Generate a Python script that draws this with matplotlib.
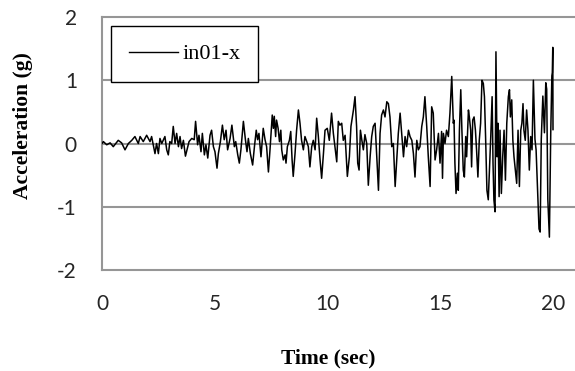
import matplotlib
matplotlib.use("Agg")
import matplotlib.pyplot as plt

# Time (sec) and acceleration (g)
time_s = [0.00, 0.06, 0.21, 0.36, 0.50, 0.72, 0.87, 1.02, 1.17, 1.32, 1.46, 1.61, 1.69, 1.83, 1.98,
          2.13, 2.20, 2.35, 2.42, 2.50, 2.57, 2.65, 2.79, 2.87, 2.94, 3.01, 3.09, 3.16, 3.24, 3.31,
          3.39, 3.46, 3.53, 3.61, 3.70,
          3.86, 3.98, 4.09, 4.15, 4.24, 4.30, 4.39, 4.45, 4.54, 4.61, 4.69, 4.79, 4.86, 4.94, 5.01,
          5.10, 5.16, 5.25, 5.34, 5.42, 5.50, 5.57, 5.68, 5.76, 5.87, 5.93, 6.02, 6.09, 6.16, 6.27,
          6.36, 6.43, 6.49, 6.58, 6.68, 6.76, 6.84, 6.90, 6.96, 7.05, 7.15, 7.23, 7.30, 7.38, 7.45,
          7.55,
          7.60, 7.64, 7.70, 7.74, 7.81, 7.87, 7.93,
          7.97, 8.04, 8.12, 8.16, 8.22, 8.31, 8.37, 8.43, 8.48, 8.56, 8.63, 8.71, 8.78, 8.85, 8.93,
          9.00, 9.08, 9.15, 9.22, 9.30, 9.37, 9.45, 9.52, 9.59, 9.67, 9.74, 9.82, 9.89, 9.99, 10.08,
          10.18, 10.26, 10.33, 10.41, 10.48, 10.55, 10.63, 10.70, 10.78, 10.88, 10.97, 11.04, 11.15,
          11.22,
          11.29, 11.34, 11.40, 11.46, 11.52, 11.59, 11.66, 11.74, 11.81, 11.89, 11.96, 12.03, 12.11,
          12.18, 12.26, 12.33, 12.40, 12.48, 12.55, 12.63, 12.70, 12.77, 12.85, 12.92, 13.00, 13.07,
          13.14, 13.22, 13.29, 13.37, 13.44, 13.51, 13.59, 13.66, 13.74, 13.81, 13.88, 13.96, 14.03,
          14.10, 14.18, 14.25, 14.32, 14.40, 14.47, 14.55, 14.62, 14.69, 14.77, 14.84, 14.92, 14.99,
          15.06, 15.10,
          15.14, 15.21, 15.28, 15.36, 15.43, 15.51, 15.58, 15.61, 15.65, 15.70, 15.76, 15.80, 15.85,
          15.91, 15.96, 16.02, 16.07, 16.13, 16.17, 16.25, 16.29, 16.35, 16.39, 16.44, 16.50, 16.56,
          16.61, 16.67, 16.73, 16.79, 16.85, 16.91, 16.96, 17.01, 17.07, 17.13, 17.17, 17.24, 17.30,
          17.34, 17.38, 17.43, 17.47, 17.52, 17.56, 17.61, 17.65, 17.71, 17.77, 17.83, 17.89, 17.95,
          18.02, 18.07, 18.11, 18.17, 18.22, 18.27, 18.33, 18.39, 18.45, 18.51, 18.57, 18.62, 18.67,
          18.71, 18.77, 18.83, 18.89, 18.95, 19.01, 19.07, 19.13,
          19.20, 19.25, 19.38, 19.43, 19.48, 19.55, 19.62, 19.68, 19.72, 19.77, 19.84, 19.90, 19.95,
          19.97, 19.99, 20.00]

accel_g = [0.00, 0.03, -0.02, 0.01, -0.05, 0.05, 0.01, -0.10, 0.00, 0.05, 0.11, 0.00, 0.11, 0.03, 0.13,
           0.03, 0.11, -0.16, 0.00, -0.16, 0.08, 0.00, 0.11, -0.10, -0.18, 0.03, 0.00, 0.27, 0.00, 0.16,
           -0.05, 0.11, -0.08, 0.05, -0.20,
           0.03, 0.08, 0.06, 0.35, -0.02, 0.13, -0.13, 0.16, -0.18, -0.02, -0.23, 0.13, 0.21, -0.05, -0.13,
           -0.39, -0.16, 0.03, 0.29, 0.06, 0.21, -0.10, 0.08, 0.29, -0.05, 0.03, -0.18, -0.31, -0.10, 0.35,
           0.06, -0.13, 0.08, -0.16, -0.34, -0.05, 0.21, 0.06, 0.16, -0.21, 0.24, 0.06, -0.05, -0.45, -0.10,
           0.45,
           0.24, 0.43, 0.11, 0.37, 0.24, 0.03, 0.21,
           -0.10, -0.26, -0.18, -0.31, -0.05, 0.05, 0.19, -0.26, -0.52, -0.16, 0.21, 0.53, 0.32, 0.05, -0.10,
           0.11, 0.03, -0.05, -0.37, -0.05, 0.05, -0.10, 0.40, 0.13, -0.26, -0.55, -0.16, 0.21, 0.24, 0.05,
           0.48, 0.16, -0.05, -0.29, 0.35, 0.29, 0.32, 0.05, 0.13, -0.52, -0.21, 0.27, 0.53,
           0.74,
           0.27, -0.31, -0.42, 0.21, 0.06, -0.10, 0.14, 0.00, -0.66, -0.21, 0.11, 0.27, 0.32,
           -0.16, -0.74, 0.16, 0.45, 0.53, 0.42, 0.66, 0.63, 0.42, -0.05, 0.00, -0.68, -0.26,
           0.16, 0.48, 0.16, -0.21, 0.11, -0.05, 0.21, 0.11, 0.05, -0.16, -0.53, 0.05, -0.10,
           -0.05, 0.27, 0.42, 0.74, 0.27, -0.21, -0.68, 0.58, 0.48, -0.26, -0.10, 0.16, -0.31,
           0.19, -0.55,
           0.16, 0.00, 0.21, 0.11, 0.48, 1.06, 0.32, 0.37, -0.31, -0.79, -0.47, -0.74, 0.21,
           0.85, 0.21, -0.42, -0.53, 0.11, -0.21, 0.53, 0.42, 0.21, -0.37, 0.37, 0.42, 0.21,
           -0.10, -0.53, 0.05, 0.32, 1.00, 0.95, 0.74, 0.11, -0.74, -0.89, -0.53, 0.11, 0.74,
           -0.31, -0.89, -1.08, 1.45, -0.21, 0.32, -0.84, 0.21, -0.79, -0.21, 0.21, -0.58, 0.32,
           0.74, 0.85, 0.42, 0.69, 0.05, -0.21, -0.42, -0.63, 0.21, -0.68, 0.21, 0.32, 0.63,
           0.21, 0.05, 0.53, 0.21, -0.42, 0.11, -0.10, 1.00,
           0.07, -0.10, -1.35, -1.40, 0.07, 0.75, 0.17, 0.96, 0.86, -0.88, -1.48, 0.17, 1.07,
           1.12, 1.52, 0.22]

x_ticks = [0, 5, 10, 15, 20]
y_ticks = [-2, -1, 0, 1, 2]
series_name = "in01-x"

W, H = 575, 371
fig = plt.figure(figsize=(W / 100, H / 100), dpi=100)
ax = fig.add_axes([102 / W, 1 - 270 / H, (W - 102) / W, (270 - 17) / H])

grid_c = "#969696"
ax.set_xlim(0, (W - 102) / 22.55)
ax.set_ylim(-2, 2)
for yv in [-1, 0, 1]:
    ax.axhline(yv, color=grid_c, lw=1.5, zorder=1)

ax.plot(time_s, accel_g, color="black", lw=1.1, zorder=3, label=series_name)

for s in ["left", "top", "bottom"]:
    ax.spines[s].set_color(grid_c)
    ax.spines[s].set_linewidth(1.5)
ax.spines["right"].set_visible(False)

ax.set_xticks(x_ticks)
ax.set_yticks(y_ticks)
ax.set_xticklabels([str(v) for v in x_ticks])
ax.set_yticklabels([str(v) for v in y_ticks])
ax.tick_params(axis="both", length=0, labelsize=15, labelcolor="#262626")
ax.tick_params(axis="y", pad=18)
ax.tick_params(axis="x", pad=17)
for lab in ax.get_xticklabels() + ax.get_yticklabels():
    lab.set_family("Lato")

leg = ax.legend(loc="upper left", bbox_to_anchor=(111 / W, 1 - 26 / H),
                bbox_transform=fig.transFigure, borderaxespad=0,
                fancybox=False, framealpha=1, edgecolor="black",
                prop={"family": "Liberation Serif", "size": 16},
                handlelength=2.2, handletextpad=0.2, borderpad=0.8)
leg.get_frame().set_linewidth(1.0)
leg.get_lines()[0].set_linewidth(1.0)

fig.text(23 / W, 1 - 126 / H, "Acceleration (g)", rotation=90, ha="center", va="center",
         family="Liberation Serif", weight="bold", size=15.5)
fig.text(328 / W, 1 - 358 / H, "Time (sec)", ha="center", va="center",
         family="Liberation Serif", weight="bold", size=15.5)

fig.savefig("out.png", dpi=100)
